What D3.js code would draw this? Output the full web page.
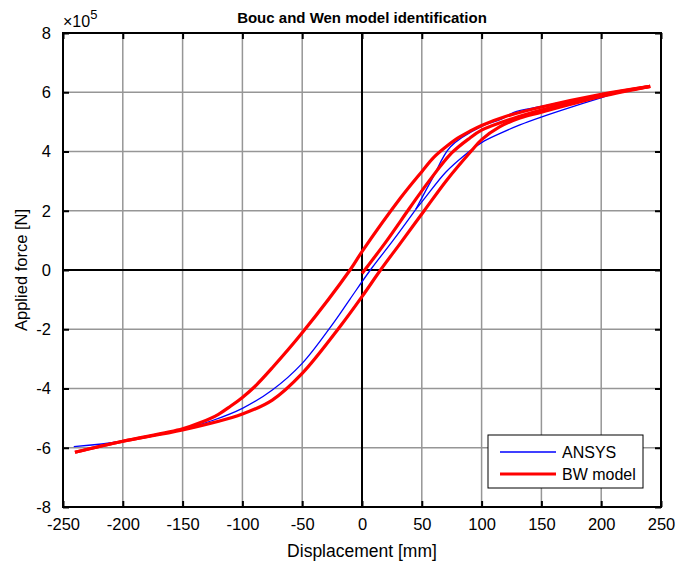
<!DOCTYPE html>
<html>
<head>
<meta charset="utf-8">
<script src="https://cdn.jsdelivr.net/npm/d3@7"></script>
<style>
  html, body { margin: 0; padding: 0; background: #fff; }
  svg { display: block; font-family: "Liberation Sans", Arial, sans-serif; }
</style>
</head>
<body>
<script>
'use strict';

// Data (force in units of 1e5 N)
const xTicks = [-250, -200, -150, -100, -50, 0, 50, 100, 150, 200, 250];
const yTicks = [-8, -6, -4, -2, 0, 2, 4, 6, 8];

// ANSYS: main path up to the split, then a lower and an upper branch to the tip
const ansysMain = [
  [-241, -5.96], [-200, -5.78], [-150, -5.38], [-125, -5.08], [-100, -4.67],
  [-75, -4.05], [-50, -3.15], [-25, -1.85], [-10, -0.98], [7, 0], [26, 1.0], [45, 2.05]
];
const ansysLower = [
  [45, 2.05], [52, 2.4], [70, 3.3], [85, 3.85], [100, 4.3], [116, 4.62], [132, 4.9],
  [151, 5.18], [175, 5.5], [201, 5.83], [210, 5.95], [240, 6.2]
];
const ansysUpper = [
  [45, 2.05], [59, 3.1], [74, 4.16], [100, 4.85], [116, 5.08], [127, 5.32],
  [150, 5.52], [200, 5.93], [240, 6.2]
];

// Bouc-Wen model: virgin loading, unloading, reloading
const bwVirgin = [
  [0, -0.12], [20, 0.95], [40, 2.1], [56, 3.0], [75, 3.95], [90, 4.45],
  [100, 4.72], [125, 5.1], [150, 5.4], [200, 5.9], [241, 6.2]
];
const bwUnload = [
  [241, 6.2], [200, 5.93], [150, 5.5], [120, 5.18], [100, 4.88], [90, 4.68],
  [80, 4.45], [70, 4.15], [60, 3.8], [50, 3.32], [32, 2.42], [0, 0.62], [-10, 0],
  [-50, -2.12], [-75, -3.3], [-90, -3.95], [-100, -4.3], [-110, -4.6],
  [-120, -4.87], [-135, -5.15], [-150, -5.36], [-200, -5.78], [-240, -6.15]
];
const bwReload = [
  [-240, -6.15], [-200, -5.78], [-150, -5.4], [-100, -4.86], [-75, -4.39],
  [-50, -3.49], [-18, -1.89], [0, -0.9], [15.5, 0], [32, 0.9], [52, 2.0],
  [71, 3.04], [91, 4.0], [100, 4.4], [115, 4.83], [132, 5.13], [150, 5.33],
  [200, 5.86], [241, 6.2]
];

const width = 691, height = 563;
const margin = { top: 33, right: 30, bottom: 56, left: 63 };
const innerW = width - margin.left - margin.right;
const innerH = height - margin.top - margin.bottom;
const fontSize = '16.5px';

const svg = d3.select('body').append('svg')
  .attr('width', width)
  .attr('height', height);

const g = svg.append('g')
  .attr('transform', `translate(${margin.left},${margin.top})`);

const x = d3.scaleLinear().domain([-250, 250]).range([0, innerW]);
const y = d3.scaleLinear().domain([-8, 8]).range([innerH, 0]);

// Grid
g.append('g').selectAll('line')
  .data(xTicks.filter(d => d !== 0))
  .enter().append('line')
  .attr('x1', d => x(d)).attr('x2', d => x(d))
  .attr('y1', 0).attr('y2', innerH)
  .attr('stroke', '#969696').attr('stroke-width', 1.5);

g.append('g').selectAll('line')
  .data(yTicks.filter(d => d !== 0))
  .enter().append('line')
  .attr('y1', d => y(d)).attr('y2', d => y(d))
  .attr('x1', 0).attr('x2', innerW)
  .attr('stroke', '#969696').attr('stroke-width', 1.5);

// Zero lines
g.append('line')
  .attr('x1', x(0)).attr('x2', x(0)).attr('y1', 0).attr('y2', innerH)
  .attr('stroke', '#000').attr('stroke-width', 2);
g.append('line')
  .attr('y1', y(0)).attr('y2', y(0)).attr('x1', 0).attr('x2', innerW)
  .attr('stroke', '#000').attr('stroke-width', 2);

// Axes (ticks inward on all four sides)
const tick = 6;
const fmt = d => String(d);
const axBottom = g.append('g').attr('transform', `translate(0,${innerH})`)
  .call(d3.axisBottom(x).tickValues(xTicks).tickSize(-tick).tickPadding(11).tickFormat(fmt));
const axTop = g.append('g')
  .call(d3.axisTop(x).tickValues(xTicks).tickSize(-tick).tickFormat(''));
const axLeft = g.append('g')
  .call(d3.axisLeft(y).tickValues(yTicks).tickSize(-tick).tickPadding(12).tickFormat(fmt));
const axRight = g.append('g').attr('transform', `translate(${innerW},0)`)
  .call(d3.axisRight(y).tickValues(yTicks).tickSize(-tick).tickFormat(''));

[axBottom, axTop, axLeft, axRight].forEach(ax => {
  ax.select('.domain').remove();
  ax.selectAll('line').attr('stroke', '#000').attr('stroke-width', 2);
  ax.selectAll('text').attr('fill', '#000').style('font-size', fontSize)
    .style('font-family', '"Liberation Sans", Arial, sans-serif');
});
axBottom.selectAll('text').attr('dy', '0.71em');

// Box
g.append('rect')
  .attr('width', innerW).attr('height', innerH)
  .attr('fill', 'none').attr('stroke', '#000').attr('stroke-width', 2);

// Curves
const line = d3.line()
  .x(d => x(d[0]))
  .y(d => y(d[1]))
  .curve(d3.curveCatmullRom.alpha(0.5));

const curves = g.append('g');
[ansysMain, ansysLower, ansysUpper].forEach(pts => {
  curves.append('path').datum(pts)
    .attr('d', line)
    .attr('fill', 'none').attr('stroke', '#0000ff').attr('stroke-width', 1.3);
});
[bwVirgin, bwUnload, bwReload].forEach(pts => {
  curves.append('path').datum(pts)
    .attr('d', line)
    .attr('fill', 'none').attr('stroke', '#ff0000').attr('stroke-width', 3.2)
    .attr('stroke-linejoin', 'round');
});

// Legend
const legend = svg.append('g').attr('transform', 'translate(488,435)');
legend.append('rect')
  .attr('width', 155).attr('height', 53)
  .attr('fill', '#fff').attr('stroke', '#000').attr('stroke-width', 1);
const legendItems = [
  { label: 'ANSYS', color: '#0000ff', w: 1.3 },
  { label: 'BW model', color: '#ff0000', w: 3.2 }
];
legendItems.forEach((d, i) => {
  const ly = 17 + i * 22;
  legend.append('line')
    .attr('x1', 12).attr('x2', 68).attr('y1', ly).attr('y2', ly)
    .attr('stroke', d.color).attr('stroke-width', d.w);
  legend.append('text')
    .attr('x', 74).attr('y', ly).attr('dy', '0.35em')
    .style('font-size', '16px')
    .text(d.label);
});

// Title and labels
svg.append('text')
  .attr('x', margin.left + innerW / 2).attr('y', 23)
  .attr('text-anchor', 'middle')
  .style('font-size', '15px').style('font-weight', 'bold')
  .text('Bouc and Wen model identification');

const expo = svg.append('text').attr('x', 63).attr('y', 27).style('font-size', '16px');
expo.append('tspan').text('\u00d710');
expo.append('tspan').attr('dy', -8).style('font-size', '13px').text('5');

svg.append('text')
  .attr('x', margin.left + innerW / 2).attr('y', 557)
  .attr('text-anchor', 'middle')
  .style('font-size', '17.5px')
  .text('Displacement [mm]');

svg.append('text')
  .attr('transform', `translate(27,${margin.top + innerH / 2}) rotate(-90)`)
  .attr('text-anchor', 'middle')
  .style('font-size', fontSize)
  .text('Applied force [N]');
</script>
</body>
</html>
